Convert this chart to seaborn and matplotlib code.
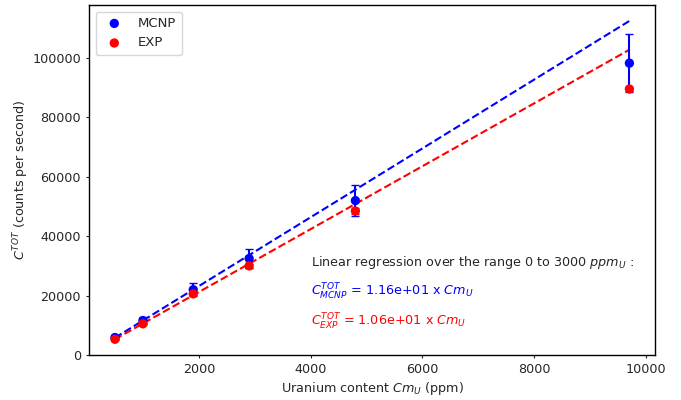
import numpy as np
import pandas as pd
import seaborn as sns
import matplotlib.pyplot as plt

# === datos ===
uranium_ppm = [500, 1000, 1900, 2900, 4800, 9700]
counts_mcnp = [5900, 11600, 22000, 32500, 52000, 98300]
err_mcnp = [600, 1150, 2100, 3100, 5200, 9800]
counts_exp = [5300, 10500, 20600, 30000, 48500, 89600]
err_exp = [100, 200, 400, 600, 900, 700]

slope_mcnp = 11.6
slope_exp = 10.6

sns.set_style('white')
plt.rcParams['font.family'] = ['DejaVu Sans']
plt.rcParams['font.size'] = 9.2

df = pd.DataFrame({'x': uranium_ppm, 'mcnp': counts_mcnp, 'exp': counts_exp})
x_fit = np.array([min(uranium_ppm), max(uranium_ppm)])

fig, ax = plt.subplots(figsize=(6.81, 4), dpi=100)
fig.subplots_adjust(left=0.131, right=0.962, bottom=0.1125, top=0.9875)

# regresiones (pasan por el origen)
sns.lineplot(x=x_fit, y=slope_mcnp * x_fit, color='blue', linestyle='--', linewidth=1.5, ax=ax)
sns.lineplot(x=x_fit, y=slope_exp * x_fit, color='red', linestyle='--', linewidth=1.5, ax=ax)

# barras de error + puntos
ax.errorbar(df['x'], df['mcnp'], yerr=err_mcnp, fmt='none', ecolor='blue', capsize=3, elinewidth=1.5)
sns.scatterplot(data=df, x='x', y='mcnp', color='blue', s=45, edgecolor='none', label='MCNP', ax=ax, zorder=3)
ax.errorbar(df['x'], df['exp'], yerr=err_exp, fmt='none', ecolor='red', capsize=3, elinewidth=1.5)
sns.scatterplot(data=df, x='x', y='exp', color='red', s=45, edgecolor='none', label='EXP', ax=ax, zorder=4)

ax.set_ylim(bottom=0)
ax.set_xlabel('Uranium content $Cm_U$ (ppm)', fontsize=9.2, labelpad=2.5)
ax.set_ylabel('$C^{TOT}$ (counts per second)', fontsize=9.2, labelpad=1)
ax.tick_params(axis='both', which='major', bottom=True, left=True, length=2.5, labelsize=9.2)
for s in ax.spines.values():
    s.set_color('black')
    s.set_linewidth(1.0)

ax.text(4000, 30000, 'Linear regression over the range 0 to 3000 $ppm_U$ :', fontsize=9.2)
ax.text(4000, 19800, '$C^{TOT}_{MCNP}$ = 1.16e+01 x $Cm_U$', fontsize=9.2, color='blue')
ax.text(4000, 9800, '$C^{TOT}_{EXP}$ = 1.06e+01 x $Cm_U$', fontsize=9.2, color='red')

ax.legend(loc='upper left', fontsize=9.5, frameon=True)

plt.savefig('out.png', dpi=100)
plt.close()
